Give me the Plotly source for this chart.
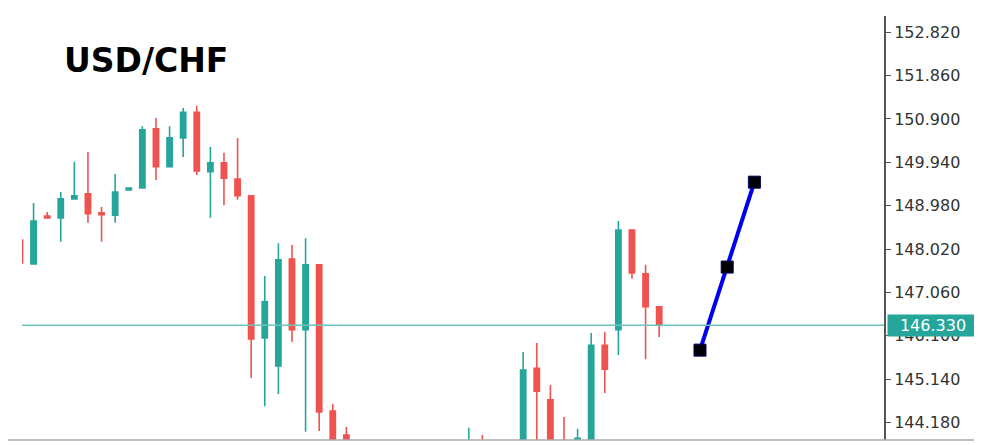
import plotly.graph_objects as go

# ---- data ----
bars = list(range(48))
opens = [148.22, 147.69, 148.75, 148.71, 149.13, 149.24, 148.82, 148.77, 149.33, 149.37,
         150.68, 149.84, 150.48, 151.05, 149.73, 149.93, 149.57, 149.20, 146.05, 145.43,
         147.80, 146.23, 147.67, 144.43, 143.90, 143.50, 143.10, 142.80, 143.00, 142.70,
         142.90, 143.30, 143.10, 143.40, 143.75, 143.30, 143.50, 143.20, 145.38, 144.68,
         143.60, 143.60, 143.81, 145.89, 146.23, 148.44, 147.47, 146.74]
highs = [148.24, 149.04, 148.84, 149.28, 149.95, 150.17, 148.95, 149.68, 149.39, 150.74,
         150.92, 150.74, 151.14, 151.19, 150.28, 150.15, 150.48, 149.21, 147.42, 148.15,
         148.11, 148.26, 147.69, 144.59, 144.08, 143.70, 143.40, 143.20, 143.30, 143.10,
         143.50, 143.60, 143.70, 144.06, 143.90, 143.70, 143.75, 145.74, 145.94, 145.01,
         144.30, 144.04, 146.16, 146.18, 148.64, 148.46, 147.67, 146.75]
lows = [147.70, 147.68, 148.70, 148.18, 149.12, 148.60, 148.18, 148.60, 149.32, 149.36,
        149.55, 149.83, 150.06, 149.66, 148.71, 148.99, 149.11, 145.16, 144.54, 144.81,
        145.96, 143.97, 143.99, 143.45, 143.30, 142.90, 142.60, 142.30, 142.50, 142.20,
        142.60, 142.90, 142.80, 143.20, 143.10, 142.90, 143.00, 143.00, 143.60, 143.40,
        143.10, 143.40, 143.60, 144.83, 145.67, 147.36, 145.58, 146.07]
closes = [147.71, 148.64, 148.71, 149.13, 149.20, 148.80, 148.78, 149.28, 149.37, 150.66,
          149.84, 150.48, 151.05, 149.75, 149.93, 149.59, 149.20, 146.03, 146.85, 147.78,
          146.23, 147.67, 144.41, 143.60, 143.50, 143.10, 142.80, 143.00, 142.70, 142.90,
          143.30, 143.10, 143.40, 143.75, 143.30, 143.50, 143.20, 145.34, 144.87, 143.60,
          143.30, 143.83, 145.89, 145.36, 148.44, 147.49, 146.74, 146.33]

forecast_x = [50, 52, 54]
forecast_y = [145.78, 147.62, 149.50]

current_price = 146.33
tick_values = [144.18, 145.14, 146.10, 147.06, 148.02, 148.98, 149.94, 150.90, 151.86, 152.82]
tick_labels = [f"{v:.3f}" for v in tick_values]
title_text = "USD/CHF"

GREEN = "#26a69a"
RED = "#ef5350"

fig = go.Figure()
fig.add_trace(go.Candlestick(
    x=bars, open=opens, high=highs, low=lows, close=closes,
    increasing=dict(line=dict(color=GREEN, width=1.6), fillcolor=GREEN),
    decreasing=dict(line=dict(color=RED, width=1.6), fillcolor=RED),
    showlegend=False, hoverinfo="skip",
))
fig.add_trace(go.Scatter(
    x=forecast_x, y=forecast_y, mode="lines+markers",
    line=dict(color="#0000ee", width=4),
    marker=dict(symbol="square", size=12, color="black", line=dict(color="#000060", width=1)),
    showlegend=False, hoverinfo="skip",
))

fig.add_hline(y=current_price, line=dict(color="#6cc4ba", width=1.5))

fig.add_annotation(
    xref="paper", yref="y", x=1.0, y=current_price, xanchor="left", yanchor="middle",
    xshift=3, text=f"{current_price:.3f}", showarrow=False,
    font=dict(family="DejaVu Sans", size=16, color="white"),
    bgcolor=GREEN, borderpad=1, width=88, align="center",
)
fig.add_annotation(
    xref="paper", yref="paper", x=0.0464, y=0.896, xanchor="left", yanchor="middle",
    text=f"<b>{title_text}</b>", showarrow=False,
    font=dict(family="DejaVu Sans", size=33, color="black"),
)
# bottom gray border line
fig.add_shape(type="line", xref="paper", yref="paper", x0=-0.03, x1=1.12, y0=0, y1=0,
              line=dict(color="#aaaaaa", width=1.5))

fig.update_layout(
    width=982, height=445,
    margin=dict(l=14, r=106, t=8, b=13),
    paper_bgcolor="white", plot_bgcolor="white",
    boxgap=0.45,
    xaxis=dict(range=[0.15, 63.53], visible=False, rangeslider=dict(visible=False),
               showgrid=False, zeroline=False),
    yaxis=dict(range=[143.79, 153.18], side="right", showgrid=False, zeroline=False,
               tickvals=tick_values, ticktext=tick_labels,
               ticks="outside", ticklen=5, tickcolor="#555555", tickwidth=1,
               showline=True, linecolor="#555555", linewidth=2,
               tickfont=dict(family="DejaVu Sans", size=16, color="#333333")),
)

fig.write_html("out.html")
